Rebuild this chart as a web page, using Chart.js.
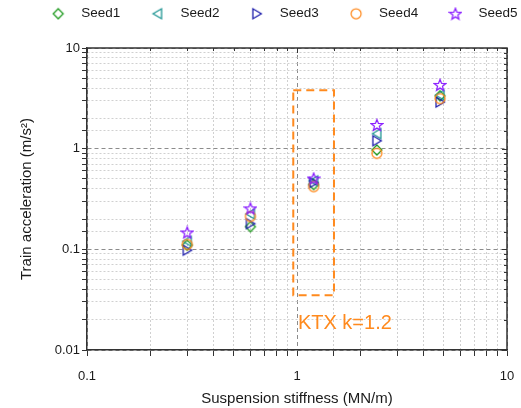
<!DOCTYPE html>
<html>
<head>
<meta charset="utf-8">
<script src="https://cdn.jsdelivr.net/npm/chart.js@4/dist/chart.umd.min.js"></script>
<style>
  html, body { margin: 0; padding: 0; background: #fff; }
  #wrap { width: 521px; height: 408px; }
</style>
</head>
<body>
<div id="wrap"><canvas id="accChart"></canvas></div>
<script>
  // raideur de suspension (MN/m)
  const stiffness = [0.3, 0.6, 1.2, 2.4, 4.8];

  // accélération du train (m/s²) pour chaque graine
  const seed1 = [0.11, 0.168, 0.44, 0.97, 3.35];
  const seed2 = [0.12, 0.225, 0.48, 1.41, 3.4];
  const seed3 = [0.098, 0.18, 0.46, 1.2, 2.9];
  const seed4 = [0.112, 0.212, 0.42, 0.9, 3.15];
  const seed5 = [0.147, 0.255, 0.505, 1.72, 4.3];

  const xTickLabels = { 0.1: "0.1", 1: "1", 10: "10" };
  const yTickLabels = { 0.01: "0.01", 0.1: "0.1", 1: "1", 10: "10" };

  // zone KTX (en coordonnées des données)
  const ktxBox = { xMin: 0.96, xMax: 1.5, yMin: 0.035, yMax: 3.8 };
  const ktxLabel = { x: 1.01, y: 0.0185, text: "KTX k=1.2" };

  const FONT = "'Liberation Sans', Arial, sans-serif";
  const ORANGE = "#FF8A1E";

  /* MARQUEURS CREUX */
  function makeMarker(shape, color) {
    const size = 14;
    const c = document.createElement("canvas");
    c.width = size;
    c.height = size;
    const g = c.getContext("2d");
    const m = size / 2;
    g.strokeStyle = color;
    g.lineWidth = 1.25;
    g.lineJoin = "miter";
    g.beginPath();
    if (shape === "diamond") {
      g.moveTo(m, m - 5);
      g.lineTo(m + 5, m);
      g.lineTo(m, m + 5);
      g.lineTo(m - 5, m);
    } else if (shape === "left") {
      g.moveTo(m - 4.5, m);
      g.lineTo(m + 4, m - 5);
      g.lineTo(m + 4, m + 5);
    } else if (shape === "right") {
      g.moveTo(m + 4.5, m);
      g.lineTo(m - 4, m - 5);
      g.lineTo(m - 4, m + 5);
    } else if (shape === "circle") {
      g.arc(m, m, 5, 0, Math.PI * 2);
    } else if (shape === "star") {
      for (let i = 0; i < 10; i++) {
        const r = i % 2 === 0 ? 6 : 2.6;
        const a = -Math.PI / 2 + (i * Math.PI) / 5;
        const px = m + r * Math.cos(a);
        const py = m + 0.5 + r * Math.sin(a);
        if (i === 0) g.moveTo(px, py);
        else g.lineTo(px, py);
      }
    }
    g.closePath();
    g.stroke();
    return c;
  }

  function series(label, values, shape, color, order) {
    return {
      label: label,
      data: stiffness.map((x, i) => ({ x: x, y: values[i] })),
      pointStyle: makeMarker(shape, color),
      borderColor: color,
      backgroundColor: "transparent",
      pointRadius: 6,
      showLine: false,
      order: order,
    };
  }

  const isDecade = (v) => Math.abs(Math.log10(v) - Math.round(Math.log10(v))) < 1e-9;

  const gridOpts = {
    color: (c) => (c.tick && isDecade(c.tick.value) ? "#8c8c8c" : "#d0d0d0"),
    lineWidth: 1,
    tickColor: "#333",
  };
  const borderOpts = {
    color: "#333",
    width: 1.5,
    dash: (c) => (c.tick && isDecade(c.tick.value) ? [4, 3] : [2, 2]),
  };

  /* CADRE HAUT / DROITE AVEC GRADUATIONS INTERNES */
  const frame = {
    id: "frame",
    afterDraw(chart) {
      const { ctx, chartArea: a, scales } = chart;
      ctx.save();
      ctx.strokeStyle = "#333";
      ctx.lineWidth = 1.5;
      ctx.beginPath();
      ctx.moveTo(a.left, a.top);
      ctx.lineTo(a.right, a.top);
      ctx.lineTo(a.right, a.bottom);
      ctx.stroke();
      ctx.lineWidth = 1;
      ctx.beginPath();
      scales.x.ticks.forEach((t) => {
        const px = Math.round(scales.x.getPixelForValue(t.value)) + 0.5;
        const len = isDecade(t.value) ? 5 : 3;
        ctx.moveTo(px, a.top);
        ctx.lineTo(px, a.top + len);
      });
      scales.y.ticks.forEach((t) => {
        const py = Math.round(scales.y.getPixelForValue(t.value)) + 0.5;
        const len = isDecade(t.value) ? 5 : 3;
        ctx.moveTo(a.right, py);
        ctx.lineTo(a.right - len, py);
      });
      ctx.stroke();
      ctx.restore();
    },
  };

  /* ZONE KTX EN POINTILLÉS */
  const ktxZone = {
    id: "ktxZone",
    beforeDatasetsDraw(chart) {
      const { ctx, scales: { x, y } } = chart;
      const x0 = x.getPixelForValue(ktxBox.xMin);
      const x1 = x.getPixelForValue(ktxBox.xMax);
      const y0 = y.getPixelForValue(ktxBox.yMax);
      const y1 = y.getPixelForValue(ktxBox.yMin);
      ctx.save();
      ctx.strokeStyle = ORANGE;
      ctx.lineWidth = 2;
      ctx.setLineDash([8, 5]);
      ctx.strokeRect(x0, y0, x1 - x0, y1 - y0);
      ctx.setLineDash([]);
      ctx.fillStyle = ORANGE;
      ctx.font = "20px " + FONT;
      ctx.textAlign = "left";
      ctx.textBaseline = "middle";
      ctx.fillText(ktxLabel.text, x.getPixelForValue(ktxLabel.x), y.getPixelForValue(ktxLabel.y));
      ctx.restore();
    },
  };

  // place la légende comme sur la figure d'origine
  const legendPlace = {
    id: "legendPlace",
    afterLayout(chart) {
      const lg = chart.legend;
      lg.left = 21;
      lg.right = 640;
      lg.top = -14;
    },
  };

  const ctx = document.getElementById("accChart").getContext("2d");
  const accChart = new Chart(ctx, {
    type: "scatter",
    data: {
      datasets: [
        series("Seed1", seed1, "diamond", "#1E9A1E", 5),
        series("Seed2", seed2, "left", "#17918F", 4),
        series("Seed3", seed3, "right", "#1515A8", 3),
        series("Seed4", seed4, "circle", ORANGE, 2),
        series("Seed5", seed5, "star", "#8A1EFF", 1),
      ],
    },
    options: {
      responsive: true,
      maintainAspectRatio: false,
      animation: false,
      layout: { padding: { top: 4, right: 0, left: 0, bottom: 0 } },
      plugins: {
        tooltip: { enabled: false },
        legend: {
          position: "top",
          align: "start",
          maxHeight: 44,
          labels: {
            usePointStyle: true,
            pointStyleWidth: 32.5,
            padding: 21,
            color: "#1a1a1a",
            font: { family: FONT, size: 13.5 },
            sort: (a, b) => a.datasetIndex - b.datasetIndex,
          },
        },
      },
      scales: {
        x: {
          type: "logarithmic",
          min: 0.1,
          max: 10,
          afterFit: (s) => {
            s.height = 58;
            s.paddingLeft = 0;
            s.paddingRight = 14;
          },
          grid: Object.assign({ tickLength: 6 }, gridOpts),
          border: borderOpts,
          ticks: {
            autoSkip: false,
            maxRotation: 0,
            padding: 13,
            color: "#1a1a1a",
            font: { family: FONT, size: 13 },
            callback: (v) => xTickLabels[v] || "",
          },
          title: {
            display: true,
            text: "Suspension stiffness (MN/m)",
            color: "#1a1a1a",
            font: { family: FONT, size: 15 },
            padding: { top: 0, bottom: 0 },
          },
        },
        y: {
          type: "logarithmic",
          min: 0.01,
          max: 10,
          afterFit: (s) => { s.width = 87; },
          grid: Object.assign({ tickLength: 5 }, gridOpts),
          border: borderOpts,
          ticks: {
            autoSkip: false,
            padding: 2,
            color: "#1a1a1a",
            font: { family: FONT, size: 13 },
            callback: (v) => yTickLabels[v] || "",
          },
          title: {
            display: true,
            text: "Train acceleration (m/s²)",
            color: "#1a1a1a",
            font: { family: FONT, size: 15 },
            padding: { top: 18, bottom: 0 },
          },
        },
      },
    },
    plugins: [ktxZone, frame, legendPlace],
  });
</script>
</body>
</html>
